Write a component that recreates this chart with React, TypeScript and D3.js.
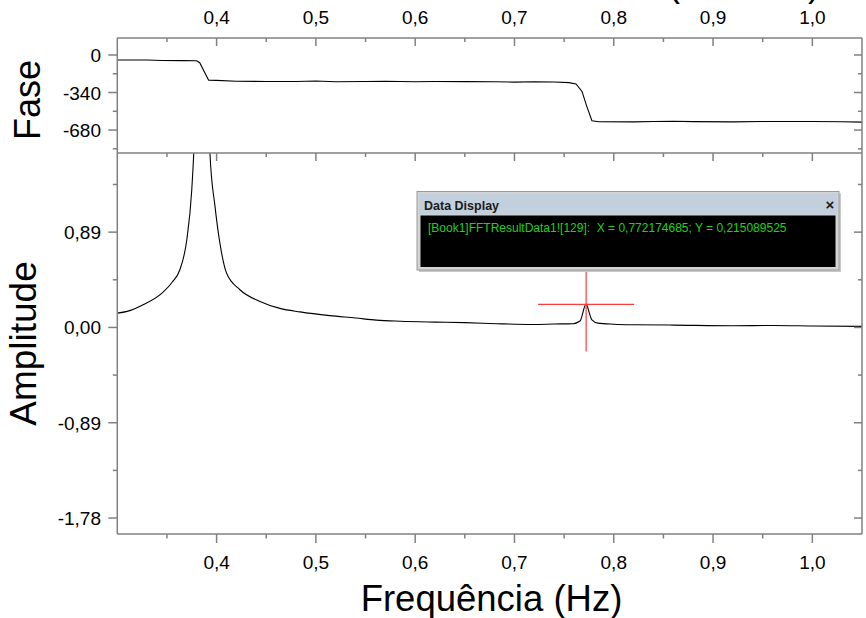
import React from "react";
import * as d3 from "d3";

// ---- data ----
const phaseX = [0.300, 0.330, 0.345, 0.365, 0.380, 0.383, 0.392, 0.400, 0.420, 0.450, 0.480, 0.500, 0.520, 0.550, 0.570, 0.600, 0.620, 0.650, 0.680, 0.700, 0.720, 0.740, 0.755, 0.762, 0.768, 0.773, 0.778, 0.785, 0.820, 0.840, 0.860, 0.880, 0.920, 0.950, 1.000, 1.030, 1.050];
const phaseY = [-45, -45, -50, -51, -52, -70, -229, -230, -238, -240, -240, -236, -242, -240, -238, -243, -240, -241, -242, -246, -242, -245, -250, -262, -330, -470, -596, -605, -606, -603, -600, -604, -606, -603, -602, -605, -608];

const ampX = [0.300, 0.310, 0.326, 0.345, 0.355, 0.363, 0.370, 0.375, 0.3795, 0.383, 0.386, 0.389, 0.3933, 0.3984, 0.404, 0.410, 0.4235, 0.4437, 0.4638, 0.484, 0.514, 0.540, 0.561, 0.585, 0.620, 0.650, 0.682, 0.7185, 0.740, 0.759, 0.766, 0.772, 0.778, 0.784, 0.800, 0.819, 0.860, 0.920, 0.960, 1.000, 1.050];
const ampY = [0.134, 0.150, 0.212, 0.321, 0.420, 0.539, 0.819, 1.286, 2.2, 3.4, 4.0, 3.2, 1.629, 1.13, 0.75, 0.508, 0.352, 0.243, 0.178, 0.145, 0.110, 0.088, 0.068, 0.058, 0.050, 0.045, 0.035, 0.028, 0.032, 0.035, 0.060, 0.215, 0.070, 0.040, 0.030, 0.025, 0.022, 0.016, 0.018, 0.014, 0.010];

const xTicks = [0.4, 0.5, 0.6, 0.7, 0.8, 0.9, 1.0];
const xTickLabels = ["0,4", "0,5", "0,6", "0,7", "0,8", "0,9", "1,0"];
const xMinor = [0.35, 0.45, 0.55, 0.65, 0.75, 0.85, 0.95];

const ampTicks = [0.89, 0, -0.89, -1.78];
const ampTickLabels = ["0,89", "0,00", "-0,89", "-1,78"];
const ampMinor = [1.335, 0.445, -0.445, -1.335];

const phaseTicks = [0, -340, -680];
const phaseTickLabels = ["0", "-340", "-680"];
const phaseMinor = [-170, -510, -850];

const cursorX = 0.772174685;
const cursorY = 0.215089525;
const displayText = "[Book1]FFTResultData1![129]:  X = 0,772174685; Y = 0,215089525";

// ---- layout ----
const W = 866, H = 618;
const L = 117.3, R = 862;
const PT = 38, PB = 153; // phase panel
const AT = 153, AB = 534; // amplitude panel
const FONT = "'Liberation Sans', Arial, sans-serif";
const AX = "#808080";

export default function App() {
  const x = d3.scaleLinear().domain([0.30, 1.05]).range([L, R]);
  const yP = d3.scaleLinear().domain([-888, 154]).range([PB, PT]);
  const yA = d3.scaleLinear().domain([-1.929, 1.629]).range([AB, AT]);

  const lineP = d3.line<number>().x((d, i) => x(phaseX[i])).y((d) => yP(d));
  const lineA = d3.line<number>().x((d, i) => x(ampX[i])).y((d) => yA(d)).curve(d3.curveMonotoneX);

  const cx = x(cursorX), cy = yA(cursorY);

  const boxX = 417, boxY = 191.5, boxW = 422, boxH = 78.5;

  return (
    <svg width={W} height={H} style={{ position: "absolute", left: 0, top: 0, background: "#fff" }} fontFamily={FONT}>
      <defs>
        <clipPath id="clipP"><rect x={L} y={PT} width={R - L} height={PB - PT} /></clipPath>
        <clipPath id="clipA"><rect x={L} y={AT} width={R - L} height={AB - AT} /></clipPath>
      </defs>
      <rect width={W} height={H} fill="#fff" />

      {/* partially visible top title (cut off by the top edge in the reference) */}
      <text x={668} y={-4} fontSize={36} textLength={152} lengthAdjust="spacing" fill="#000">(Hz)</text>

      {/* top axis labels */}
      {xTicks.map((t, i) => (
        <text key={"tl" + i} x={x(t)} y={24} fontSize={19} textAnchor="middle" fill="#000">{xTickLabels[i]}</text>
      ))}

      {/* data lines */}
      <path d={lineP(phaseY) || ""} fill="none" stroke="#000" strokeWidth={1.1} clipPath="url(#clipP)" />
      <path d={lineA(ampY) || ""} fill="none" stroke="#000" strokeWidth={1.1} clipPath="url(#clipA)" />

      {/* frames and ticks */}
      <g stroke={AX} strokeWidth={1.5} fill="none">
        <line x1={L} y1={PT} x2={R} y2={PT} />
        <line x1={L} y1={PT} x2={L} y2={AB} />
        <line x1={R} y1={PT} x2={R} y2={AB} />
        <line x1={L} y1={PB} x2={R} y2={PB} />
        <line x1={L} y1={AB} x2={R} y2={AB} />
        {xTicks.map((t, i) => <line key={"tt" + i} x1={x(t)} y1={PT} x2={x(t)} y2={PT + 8} />)}
        {xMinor.map((t, i) => <line key={"tm" + i} x1={x(t)} y1={PT} x2={x(t)} y2={PT + 4} />)}
        {xTicks.map((t, i) => <line key={"at" + i} x1={x(t)} y1={AT} x2={x(t)} y2={AT + 8} />)}
        {xMinor.map((t, i) => <line key={"am" + i} x1={x(t)} y1={AT} x2={x(t)} y2={AT + 4} />)}
        {xTicks.map((t, i) => <line key={"bt" + i} x1={x(t)} y1={AB} x2={x(t)} y2={AB + 9} />)}
        {xMinor.map((t, i) => <line key={"bm" + i} x1={x(t)} y1={AB} x2={x(t)} y2={AB + 4.5} />)}
        {phaseTicks.map((t, i) => <line key={"pl" + i} x1={L - 9} y1={yP(t)} x2={L} y2={yP(t)} />)}
        {phaseMinor.map((t, i) => <line key={"plm" + i} x1={L - 4.5} y1={yP(t)} x2={L} y2={yP(t)} />)}
        {phaseTicks.map((t, i) => <line key={"pr" + i} x1={R - 8} y1={yP(t)} x2={R} y2={yP(t)} />)}
        {phaseMinor.map((t, i) => <line key={"prm" + i} x1={R - 4} y1={yP(t)} x2={R} y2={yP(t)} />)}
        {ampTicks.map((t, i) => <line key={"al" + i} x1={L - 9} y1={yA(t)} x2={L} y2={yA(t)} />)}
        {ampMinor.map((t, i) => <line key={"alm" + i} x1={L - 4.5} y1={yA(t)} x2={L} y2={yA(t)} />)}
        {ampTicks.map((t, i) => <line key={"ar" + i} x1={R - 8} y1={yA(t)} x2={R} y2={yA(t)} />)}
        {ampMinor.map((t, i) => <line key={"arm" + i} x1={R - 4} y1={yA(t)} x2={R} y2={yA(t)} />)}
      </g>

      {/* tick labels */}
      {phaseTicks.map((t, i) => (
        <text key={"plt" + i} x={101} y={yP(t) + 7} fontSize={19} textAnchor="end" fill="#000">{phaseTickLabels[i]}</text>
      ))}
      {ampTicks.map((t, i) => (
        <text key={"alt" + i} x={101} y={yA(t) + 7} fontSize={19} textAnchor="end" fill="#000">{ampTickLabels[i]}</text>
      ))}
      {xTicks.map((t, i) => (
        <text key={"blt" + i} x={x(t)} y={568.5} fontSize={19} textAnchor="middle" fill="#000">{xTickLabels[i]}</text>
      ))}

      {/* axis titles */}
      <text transform={`translate(40,100) rotate(-90)`} fontSize={36} textAnchor="middle" fill="#000">Fase</text>
      <text transform={`translate(36,343.5) rotate(-90)`} fontSize={37} textAnchor="middle" fill="#000">Amplitude</text>
      <text x={491.5} y={611} fontSize={36.5} textAnchor="middle" fill="#000">Frequência (Hz)</text>

      {/* crosshair */}
      <g stroke="#ff3b3b" strokeWidth={1.2}>
        <line x1={cx - 48} y1={cy} x2={cx + 48} y2={cy} />
        <line x1={cx} y1={cy - 48} x2={cx} y2={cy + 47} />
      </g>

      {/* data display window */}
      <g>
        <rect x={boxX + 2} y={boxY + 2} width={boxW} height={boxH} fill="#c8c8c8" />
        <rect x={boxX} y={boxY} width={boxW} height={boxH} fill="#d4d4d4" stroke="#9a9a9a" strokeWidth={1} />
        <rect x={boxX + 2} y={boxY + 2} width={boxW - 4} height={21} fill="#c2cfdd" />
        <rect x={boxX + 3.5} y={boxY + 24} width={boxW - 7} height={boxH - 27} fill="#000" />
        <text x={boxX + 7} y={boxY + 18} fontSize={12.5} fontWeight="bold" fill="#1a1a1a">Data Display</text>
        <text x={boxX + boxW - 9} y={boxY + 18} fontSize={15} fontWeight="bold" textAnchor="middle" fill="#1a1a1a">×</text>
        <text x={boxX + 11} y={boxY + 40} fontSize={12} fill="#1fd01f" style={{ whiteSpace: "pre" }}>{displayText}</text>
      </g>
    </svg>
  );
}
